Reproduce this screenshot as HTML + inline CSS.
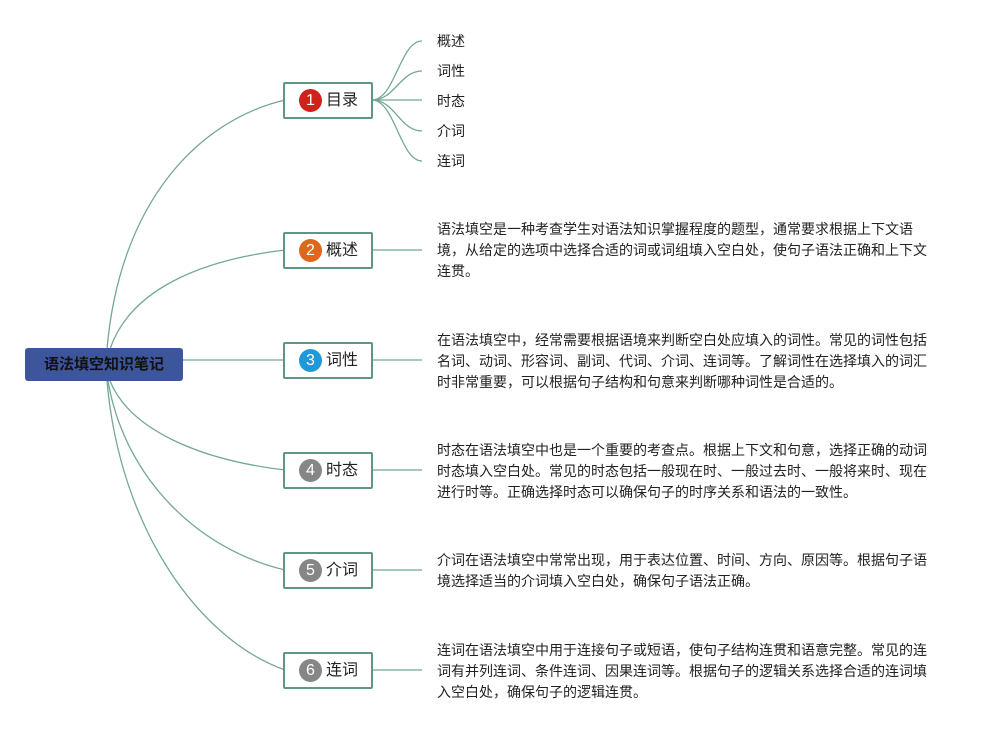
<!DOCTYPE html>
<html><head><meta charset="utf-8"><style>
body{margin:0;width:997px;height:730px;background:#fff;position:relative;overflow:hidden;font-family:"Liberation Sans","Noto Sans CJK SC",sans-serif;color:#222}
.t{position:absolute;left:437px;font-size:14px;line-height:21px;white-space:nowrap}
.s{position:absolute;left:437px;font-size:14px;line-height:20px}
.b{position:absolute;left:283px;width:86px;height:33px;border:2px solid #5f9684;border-radius:2px;background:#fff;font-size:16px;line-height:33px;box-sizing:content-box}
.b span{position:absolute;left:14px;top:5px;width:23px;height:23px;border-radius:50%;color:#fff;font-size:16px;line-height:23px;text-align:center}
.b i{position:absolute;left:41px;font-style:normal}
.root{position:absolute;left:25px;top:348px;width:158px;height:33px;background:#3d559b;border-radius:3px;color:#111;font-weight:bold;font-size:15px;line-height:33px;text-align:center}
</style></head><body>
<svg width="997" height="730" style="position:absolute;left:0;top:0" fill="none" stroke="#74a896" stroke-width="1.3">
<path d="M107 349 C120 200 200 120 285 100"/>
<path d="M110 349 C130 290 200 260 285 250"/>
<path d="M183 360 L285 360"/>
<path d="M110 381 C130 430 200 460 285 470"/>
<path d="M108 381 C125 480 200 550 285 570"/>
<path d="M107 381 C120 530 200 640 285 670"/>
<path d="M372 100 C395 100 400 41 422 41"/>
<path d="M372 100 C395 100 400 71 422 71"/>
<path d="M372 100 L422 100"/>
<path d="M372 100 C395 100 400 131 422 131"/>
<path d="M372 100 C395 100 400 161 422 161"/>
<path d="M372 250 H422 M372 360 H422 M372 470 H422 M372 570 H422 M372 670 H422"/>
</svg>
<div class="root">语法填空知识笔记</div>
<div class="b" style="top:82px"><span style="background:#d0211a">1</span><i>目录</i></div>
<div class="b" style="top:232px"><span style="background:#e0661b">2</span><i>概述</i></div>
<div class="b" style="top:342px"><span style="background:#1f9ad8">3</span><i>词性</i></div>
<div class="b" style="top:452px"><span style="background:#868686">4</span><i>时态</i></div>
<div class="b" style="top:552px"><span style="background:#868686">5</span><i>介词</i></div>
<div class="b" style="top:652px"><span style="background:#868686">6</span><i>连词</i></div>
<div class="s" style="top:31px">概述</div>
<div class="s" style="top:61px">词性</div>
<div class="s" style="top:91px">时态</div>
<div class="s" style="top:121px">介词</div>
<div class="s" style="top:151px">连词</div>
<div class="t" style="top:219px">语法填空是一种考查学生对语法知识掌握程度的题型，通常要求根据上下文语<br>境，从给定的选项中选择合适的词或词组填入空白处，使句子语法正确和上下文<br>连贯。</div>
<div class="t" style="top:330px">在语法填空中，经常需要根据语境来判断空白处应填入的词性。常见的词性包括<br>名词、动词、形容词、副词、代词、介词、连词等。了解词性在选择填入的词汇<br>时非常重要，可以根据句子结构和句意来判断哪种词性是合适的。</div>
<div class="t" style="top:440px">时态在语法填空中也是一个重要的考查点。根据上下文和句意，选择正确的动词<br>时态填入空白处。常见的时态包括一般现在时、一般过去时、一般将来时、现在<br>进行时等。正确选择时态可以确保句子的时序关系和语法的一致性。</div>
<div class="t" style="top:550px">介词在语法填空中常常出现，用于表达位置、时间、方向、原因等。根据句子语<br>境选择适当的介词填入空白处，确保句子语法正确。</div>
<div class="t" style="top:640px">连词在语法填空中用于连接句子或短语，使句子结构连贯和语意完整。常见的连<br>词有并列连词、条件连词、因果连词等。根据句子的逻辑关系选择合适的连词填<br>入空白处，确保句子的逻辑连贯。</div>
</body></html>
